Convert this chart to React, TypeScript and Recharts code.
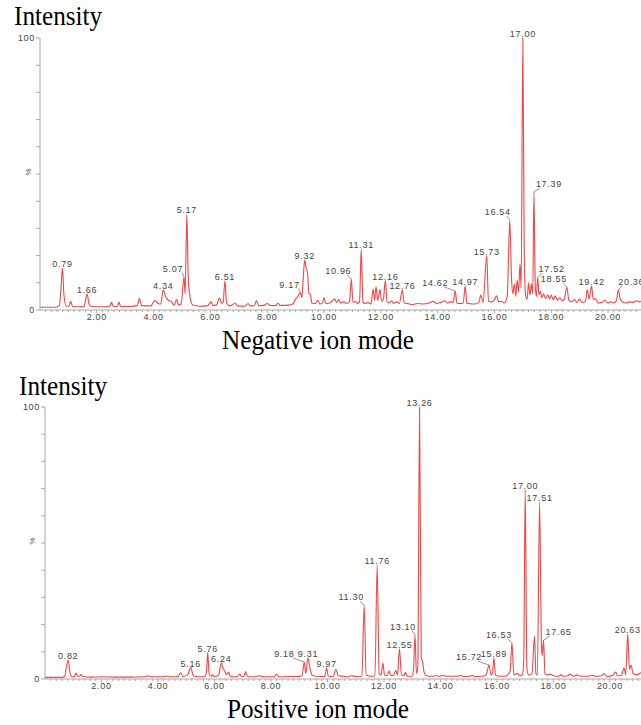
import React from 'react'
import { ComposedChart, Line, Scatter, XAxis, YAxis } from 'recharts'

// retention time (min), relative intensity (%)
const negativeTrace: [number, number][] = [
  [0.0, 1.0], [0.55, 1.0], [0.68, 1.6], [0.74, 8], [0.79, 15.4], [0.84, 6], [0.92, 1.5],
  [1.02, 1.4], [1.08, 3.2], [1.14, 1.4], [1.3, 1.2], [1.55, 1.3], [1.62, 4.5], [1.66, 5.9],
  [1.72, 2.5], [1.8, 1.3], [2.2, 1.2], [2.45, 1.4], [2.52, 2.8], [2.58, 1.3], [2.72, 1.3],
  [2.78, 2.9], [2.84, 1.3], [3.2, 1.3], [3.42, 1.6], [3.5, 4.3], [3.57, 1.6], [3.9, 1.5],
  [4.05, 3.6], [4.15, 2.4], [4.25, 2.2], [4.34, 7.4], [4.42, 5.0], [4.52, 3.6], [4.62, 3.2],
  [4.72, 1.8], [4.81, 3.8], [4.88, 1.9], [4.97, 2.2], [5.07, 12.3], [5.11, 6], [5.17, 35.3],
  [5.22, 12], [5.3, 3.8], [5.38, 1.8], [5.6, 1.4], [5.9, 1.5], [6.02, 3.0], [6.1, 1.6],
  [6.22, 2.0], [6.32, 4.4], [6.4, 2.4], [6.45, 3.0], [6.51, 10.7], [6.57, 2.6], [6.7, 1.5],
  [6.88, 2.6], [6.95, 1.5], [7.2, 1.4], [7.33, 2.4], [7.4, 1.5], [7.55, 1.6], [7.62, 3.5],
  [7.7, 1.6], [7.9, 1.8], [8.0, 2.4], [8.1, 1.7], [8.3, 1.6], [8.38, 2.6], [8.45, 1.7],
  [8.75, 1.8], [8.9, 2.2], [9.0, 4.0], [9.08, 5.0], [9.17, 6.4], [9.22, 4.5], [9.27, 12],
  [9.32, 18.4], [9.37, 15.5], [9.42, 13.5], [9.47, 6], [9.52, 5.8], [9.57, 2.6], [9.7, 2.4],
  [9.78, 3.6], [9.85, 2.2], [9.95, 2.6], [10.0, 4.6], [10.06, 2.4], [10.2, 2.6], [10.3, 3.4],
  [10.38, 4.0], [10.44, 2.8], [10.52, 3.8], [10.58, 2.6], [10.7, 3.0], [10.8, 2.4], [10.9, 3.2],
  [10.96, 11.4], [11.02, 2.8], [11.1, 3.2], [11.18, 2.4], [11.25, 3.0], [11.31, 22.4],
  [11.37, 3.0], [11.45, 2.4], [11.55, 2.8], [11.65, 2.2], [11.73, 7.7], [11.78, 3.5],
  [11.83, 8.5], [11.89, 3.5], [11.97, 7.5], [12.03, 3.2], [12.09, 4.0], [12.16, 10.8],
  [12.22, 3.0], [12.3, 2.6], [12.38, 3.4], [12.45, 2.4], [12.55, 3.0], [12.65, 2.4],
  [12.76, 7.4], [12.82, 2.6], [12.95, 2.4], [13.1, 2.0], [13.3, 2.4], [13.5, 2.2], [13.7, 2.6],
  [13.85, 3.2], [13.95, 2.4], [14.1, 2.8], [14.25, 3.4], [14.35, 2.5], [14.45, 3.0],
  [14.55, 2.8], [14.62, 7.0], [14.68, 2.6], [14.8, 2.4], [14.9, 2.6], [14.97, 8.8],
  [15.03, 2.5], [15.15, 2.3], [15.3, 2.2], [15.45, 2.8], [15.52, 5.5], [15.6, 2.8],
  [15.73, 19.9], [15.79, 3.2], [15.9, 3.0], [16.0, 3.8], [16.08, 5.2], [16.15, 3.0],
  [16.25, 3.2], [16.35, 2.6], [16.45, 5.0], [16.54, 33.1], [16.6, 12], [16.65, 6], [16.7, 9.5],
  [16.75, 5.0], [16.8, 11.0], [16.85, 6.5], [16.9, 17.0], [16.94, 8.0], [17.0, 100],
  [17.05, 20], [17.1, 5.0], [17.15, 4.0], [17.2, 10.0], [17.25, 5.5], [17.3, 9.5], [17.35, 6],
  [17.39, 43.4], [17.44, 8], [17.48, 5], [17.52, 12.0], [17.57, 5.5], [17.62, 7.0],
  [17.67, 4.5], [17.73, 6.0], [17.8, 4.2], [17.88, 5.6], [17.94, 4.0], [18.0, 5.5],
  [18.07, 3.8], [18.14, 5.2], [18.22, 3.6], [18.3, 4.6], [18.38, 3.4], [18.46, 4.0],
  [18.55, 8.4], [18.62, 3.6], [18.72, 3.0], [18.82, 3.8], [18.9, 2.8], [19.0, 4.0],
  [19.08, 2.8], [19.2, 3.0], [19.27, 7.4], [19.33, 4.0], [19.42, 8.8], [19.48, 3.8],
  [19.55, 4.2], [19.65, 2.6], [19.78, 2.8], [19.9, 3.6], [19.98, 2.6], [20.1, 3.0],
  [20.2, 2.6], [20.3, 3.6], [20.36, 7.4], [20.42, 4.4], [20.5, 3.0], [20.62, 2.6],
  [20.75, 3.0], [20.88, 2.8], [21.0, 3.4], [21.1, 3.0], [21.2, 3.4],
]

const positiveTrace: [number, number][] = [
  [0.0, 0.6], [0.6, 0.6], [0.7, 1.0], [0.76, 4.5], [0.82, 7.0], [0.88, 2.5], [0.95, 0.8],
  [1.05, 0.8], [1.1, 2.2], [1.15, 1.0], [1.22, 1.0], [1.27, 1.6], [1.34, 0.9], [1.6, 0.7],
  [2.0, 0.8], [2.5, 0.7], [3.0, 0.7], [3.55, 0.8], [3.65, 1.2], [3.75, 0.8], [4.2, 0.8],
  [4.33, 1.1], [4.45, 0.8], [4.7, 0.9], [4.8, 2.3], [4.88, 0.9], [5.05, 1.5], [5.16, 4.2],
  [5.25, 1.2], [5.4, 0.8], [5.65, 0.8], [5.72, 3], [5.76, 9.7], [5.81, 2.0], [5.87, 1.0],
  [5.93, 1.5], [6.0, 0.8], [6.15, 1.5], [6.24, 6.0], [6.3, 4.0], [6.36, 3.0], [6.42, 1.6],
  [6.5, 2.5], [6.56, 1.0], [6.8, 0.8], [6.9, 1.8], [6.96, 0.9], [7.04, 0.9], [7.1, 2.7],
  [7.17, 0.9], [7.4, 0.8], [7.6, 1.2], [7.7, 0.8], [8.1, 0.8], [8.2, 1.8], [8.28, 0.8],
  [8.6, 0.9], [8.9, 0.9], [9.1, 1.2], [9.18, 6.2], [9.23, 2.0], [9.31, 7.8], [9.38, 4.0],
  [9.45, 1.5], [9.6, 1.0], [9.9, 0.9], [9.97, 4.0], [10.03, 1.0], [10.2, 0.9], [10.3, 3.6],
  [10.38, 1.2], [10.55, 1.0], [10.7, 0.8], [10.85, 1.2], [11.0, 0.9], [11.22, 1.0],
  [11.3, 27.2], [11.37, 1.5], [11.55, 1.0], [11.68, 1.2], [11.76, 41.9], [11.83, 2.0],
  [11.9, 1.5], [11.96, 5.9], [12.02, 1.5], [12.12, 1.3], [12.18, 3.0], [12.24, 1.3],
  [12.34, 1.3], [12.42, 3.2], [12.48, 1.5], [12.55, 11.0], [12.62, 1.5], [12.7, 1.2],
  [12.76, 2.5], [12.82, 1.0], [13.0, 1.0], [13.05, 4.0], [13.1, 16.2], [13.15, 2.0],
  [13.2, 5.0], [13.26, 100], [13.32, 8], [13.37, 6.3], [13.42, 2.5], [13.5, 1.2], [13.7, 1.0],
  [13.85, 1.2], [13.95, 1.0], [14.1, 1.4], [14.2, 1.0], [14.6, 1.0], [14.72, 1.4], [14.8, 0.9],
  [15.05, 1.0], [15.12, 1.4], [15.2, 0.9], [15.5, 1.0], [15.62, 1.6], [15.72, 5.1],
  [15.79, 1.5], [15.84, 2.0], [15.89, 7.7], [15.95, 1.4], [16.1, 1.0], [16.3, 1.0],
  [16.42, 2.0], [16.47, 3], [16.53, 13.3], [16.6, 1.5], [16.72, 2.0], [16.8, 1.2], [16.9, 1.5],
  [16.95, 8], [17.0, 69.5], [17.06, 4], [17.12, 1.5], [17.24, 2.0], [17.33, 15.8], [17.38, 2.0],
  [17.43, 1.5], [17.51, 65.0], [17.57, 15.0], [17.6, 8.5], [17.65, 14.3], [17.7, 2.0],
  [17.8, 1.5], [17.9, 1.8], [18.0, 1.2], [18.2, 1.0], [18.25, 1.6], [18.35, 1.0], [18.5, 1.2],
  [18.6, 1.7], [18.7, 1.0], [18.85, 1.5], [18.95, 1.0], [19.2, 1.0], [19.4, 1.4], [19.5, 1.0],
  [19.7, 1.2], [19.8, 2.0], [19.88, 1.0], [20.1, 1.3], [20.2, 2.6], [20.27, 1.2], [20.4, 1.3],
  [20.5, 4.0], [20.56, 1.5], [20.63, 16.5], [20.69, 3.5], [20.75, 5.0], [20.82, 2.0],
  [20.95, 1.5], [21.05, 2.0], [21.2, 3.0],
]

const negativePeaks = [
  '0.79', '1.66', '4.34', '5.07', '5.17', '6.51', '9.17', '9.32', '10.96', '11.31', '12.16',
  '12.76', '14.62', '14.97', '15.73', '16.54', '17.00', '17.39', '17.52', '18.55', '19.42', '20.36',
]
const positivePeaks = [
  '0.82', '5.16', '5.76', '6.24', '9.18', '9.31', '9.97', '11.30', '11.76', '12.55', '13.10',
  '13.26', '15.72', '15.89', '16.53', '17.00', '17.51', '17.65', '20.63',
]

const timeLabels = ['2.00', '4.00', '6.00', '8.00', '10.00', '12.00', '14.00', '16.00', '18.00', '20.00']
const intensityTicks = [0, 10, 20, 30, 40, 50, 60, 70, 80, 90, 100]
const intensityLabels = [0, 100]

// labels pushed sideways (px) with a leader line back to the peak
const negativeShift: Record<string, number> = {
  '5.07': -11, '9.17': -11, '10.96': -13, '14.62': -20, '16.54': -12,
  '17.39': 15, '17.52': 14, '18.55': -13, '20.36': 13,
}
const positiveShift: Record<string, number> = {
  '9.18': -20, '11.30': -13, '13.10': -12, '15.72': -20, '16.53': -13, '17.65': 15,
}

const RED = '#f04646'
const AXIS = '#a8a8a8'
const SMALL = { fontFamily: 'Liberation Sans, Arial, sans-serif', fontSize: 9, fill: '#444', letterSpacing: 0.7 }

const minorTimes = Array.from({ length: 106 }, (_, i) => Math.round((i + 1) * 2) / 10)

function TimeTick({ x, y, payload }: any) {
  const label = timeLabels.find(l => Math.abs(parseFloat(l) - payload.value) < 1e-6)
  return (
    <g>
      <line x1={x} x2={x} y1={y} y2={y + (label ? 3 : 2)} stroke={AXIS} />
      {label && (
        <text x={x} y={y + 10} textAnchor="middle" {...SMALL}>{label}</text>
      )}
    </g>
  )
}

function IntensityTick({ x, y, payload }: any) {
  const show = intensityLabels.includes(payload.value)
  return (
    <g>
      <line x1={x - 4} x2={x} y1={y} y2={y} stroke={AXIS} />
      {show && (
        <text x={x - 5} y={y + 3} textAnchor="end" {...SMALL}>{payload.value}</text>
      )}
    </g>
  )
}

function PeakLabel({ cx, cy, payload, shift }: any) {
  const dx = shift[payload.label] || 0
  if (!dx) {
    return (
      <text x={cx} y={cy - 1} textAnchor="middle" {...SMALL}>{payload.label}</text>
    )
  }
  const end = cx + dx + (dx < 0 ? 9 : -9)
  return (
    <g>
      <line x1={cx} y1={cy} x2={end} y2={cy - 4} stroke="#666" strokeWidth={0.7} />
      <text x={cx + dx} y={cy - 5} textAnchor="middle" {...SMALL}>{payload.label}</text>
    </g>
  )
}

function Chromatogram({ trace, peaks, shift, axisWidth, xMax }: any) {
  const line = trace.map(([t, v]: [number, number]) => ({ t, v }))
  const marks = peaks.map((label: string) => {
    const t = parseFloat(label)
    const hit = trace.find(([pt]: [number, number]) => Math.abs(pt - t) < 1e-6)
    return { t, v: hit ? hit[1] : 0, label }
  })
  return (
    <ComposedChart width={641} height={330} margin={{ top: 38, right: 0, bottom: 0, left: 0 }}>
      <XAxis
        type="number"
        dataKey="t"
        domain={[0, xMax]}
        allowDataOverflow
        ticks={minorTimes.filter(t => t < xMax)}
        interval={0}
        tickSize={0}
        tickMargin={0}
        tickLine={false}
        tick={<TimeTick />}
        axisLine={{ stroke: AXIS }}
        height={20}
      />
      <YAxis
        type="number"
        dataKey="v"
        domain={[0, 100]}
        ticks={intensityTicks}
        interval={0}
        tickSize={0}
        tickMargin={0}
        tickLine={false}
        tick={<IntensityTick />}
        axisLine={{ stroke: AXIS }}
        width={axisWidth}
      />
      <Line
        data={line}
        dataKey="v"
        type="monotone"
        stroke={RED}
        strokeWidth={1.1}
        dot={false}
        activeDot={false}
        isAnimationActive={false}
      />
      <Scatter
        data={marks}
        dataKey="v"
        isAnimationActive={false}
        shape={(p: any) => <PeakLabel {...p} shift={shift} />}
      />
    </ComposedChart>
  )
}

const serif = {
  position: 'absolute' as const,
  fontFamily: 'Liberation Serif, Times New Roman, serif',
  fontSize: 28,
  lineHeight: 1,
  color: '#000',
  whiteSpace: 'nowrap' as const,
}

const pct = {
  position: 'absolute' as const,
  fontFamily: 'Liberation Sans, Arial, sans-serif',
  fontSize: 8,
  color: '#555',
  lineHeight: 1,
  transform: 'rotate(-90deg)',
}

export default function App() {
  return (
    <div style={{ position: 'absolute', left: 0, top: 0, width: 641, height: 725, overflow: 'hidden', background: '#fff' }}>
      <div style={{ ...serif, left: 14, top: 2, transform: 'scaleX(0.9)', transformOrigin: 'left' }}>Intensity</div>
      <div style={{ position: 'absolute', left: 0, top: 0 }}>
        <Chromatogram trace={negativeTrace} peaks={negativePeaks} shift={negativeShift} axisWidth={40} xMax={21.16} />
      </div>
      <div style={{ ...pct, left: 25, top: 168 }}>%</div>
      <div style={{ ...serif, left: 0, width: 636, textAlign: 'center', top: 326, transform: 'scaleX(0.9)' }}>Negative ion mode</div>

      <div style={{ ...serif, left: 19, top: 372, transform: 'scaleX(0.9)', transformOrigin: 'left' }}>Intensity</div>
      <div style={{ position: 'absolute', left: 0, top: 369 }}>
        <Chromatogram trace={positiveTrace} peaks={positivePeaks} shift={positiveShift} axisWidth={45} xMax={21.1} />
      </div>
      <div style={{ ...pct, left: 29, top: 537 }}>%</div>
      <div style={{ ...serif, left: 0, width: 636, textAlign: 'center', top: 695, transform: 'scaleX(0.9)' }}>Positive ion mode</div>
    </div>
  )
}
